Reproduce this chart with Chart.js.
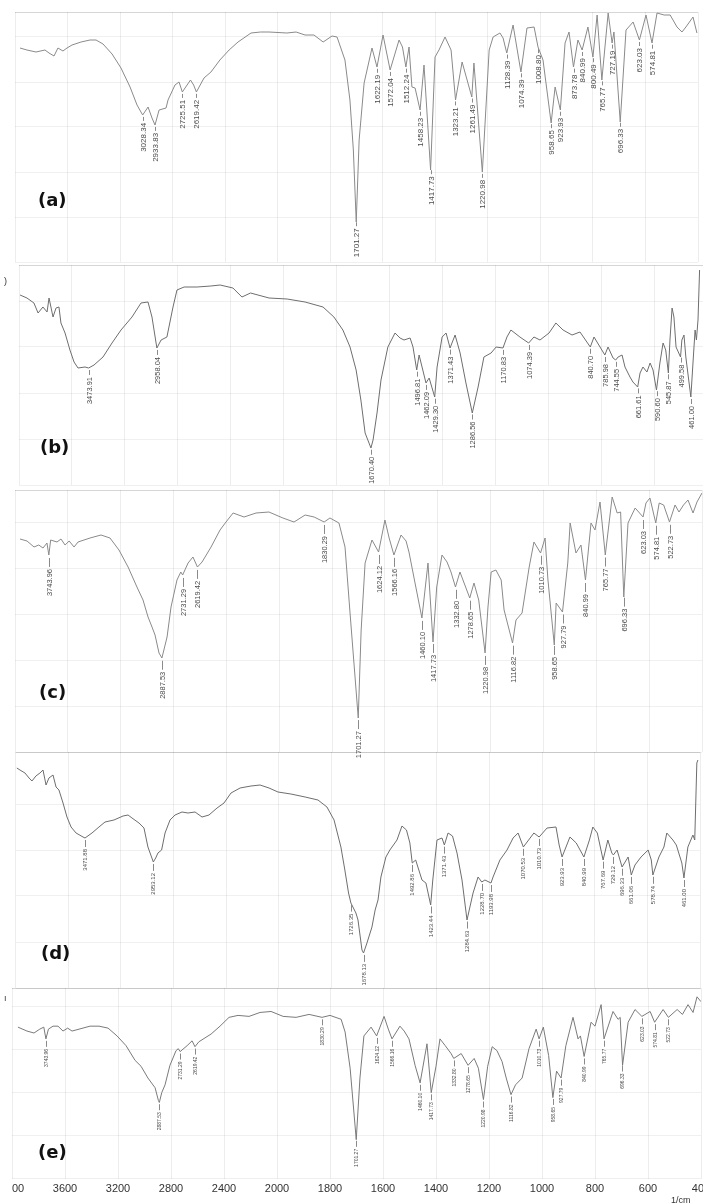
<!DOCTYPE html>
<html><head><meta charset="utf-8">
<script src="https://cdn.jsdelivr.net/npm/chart.js@4.4.0/dist/chart.umd.min.js"></script>
<style>
html,body{margin:0;padding:0;background:#fff;width:703px;height:1203px;overflow:hidden;position:relative}
.p{position:absolute;left:-20px}
.lab{position:absolute;font:bold 18px "DejaVu Sans",sans-serif;color:#111;line-height:22px}
.frag{position:absolute;font:9px "Liberation Sans",sans-serif;color:#333}
</style></head><body>
<div class="p" style="top:0px"><canvas id="ca" width="743" height="300"></canvas></div>
<div class="p" style="top:240px"><canvas id="cb" width="743" height="280"></canvas></div>
<div class="p" style="top:470px"><canvas id="cc" width="743" height="320"></canvas></div>
<div class="p" style="top:730px"><canvas id="cd" width="743" height="300"></canvas></div>
<div class="p" style="top:968px"><canvas id="ce" width="743" height="250"></canvas></div>
<div class="lab" style="left:38px;top:189px">(a)</div>
<div class="lab" style="left:40px;top:436px">(b)</div>
<div class="lab" style="left:39px;top:681px">(c)</div>
<div class="lab" style="left:41px;top:942px">(d)</div>
<div class="lab" style="left:38px;top:1141px">(e)</div>
<div class="frag" style="left:4px;top:276px">)</div>
<div class="frag" style="left:4px;top:993px">ı</div>
<div style="position:absolute;left:0;top:1184px;width:12px;height:19px;background:#fff"></div>
<div class="frag" style="left:671px;top:1195px;font-size:9px">1/cm</div>
<script>
// ---------- DATA ----------
const xTickValues = [4000,3600,3200,2800,2400,2000,1800,1600,1400,1200,1000,800,600,400];

const aWave = [3962,3909,3840,3772,3741,3703,3673,3635,3604,3566,3497,3429,3383,3330,3261,3193,3124,3071,3028,2987,2957,2934,2903,2850,2835,2782,2751,2726,2664,2640,2619,2561,2508,2440,2370,2302,2203,2130,2066,1965,1930,1896,1862,1827,1793,1774,1744,1725,1712,1701,1690,1671,1641,1622,1599,1572,1538,1525,1512,1500,1489,1477,1458,1443,1418,1401,1386,1363,1340,1323,1298,1261,1253,1221,1195,1180,1154,1142,1128,1104,1074,1051,1024,1009,990,959,944,924,906,891,874,857,841,819,800,784,766,742,727,720,696,674,647,623,598,575,556,529,506,480,461,446,419,404];
const aT = [107,106,105,106,104.5,103,107,105.5,107,108.5,110,111,111,109,104,97,87.5,78.5,73.5,77.5,72,68.5,76,77,81,88.5,90,85,91,88.5,85,92,95,101,106,110,114.5,115,115,114.5,115,113.5,113.5,110,113,112.5,101,81,56,20,61,89.5,107,97.5,113.5,96,111,107.5,97.5,107.5,87.5,87,76,98.5,46,102.5,106,112.5,106,81,100,82.5,99.5,45,106,112.5,114.5,112,104.5,118.5,95,117,117.5,107.5,101,69.5,87.5,76,109.5,115,97.5,111,106,117.5,102.5,123.5,91,124.5,109.5,115,70,116,120,111,123.5,109.5,124.5,123.5,123.5,117.5,115,117.5,122.5,114.5];
const aPeaks = [3028.34,2933.83,2725.51,2619.42,1701.27,1622.19,1572.04,1512.24,1458.23,1417.73,1323.21,1261.49,1220.98,1128.39,1074.39,1008.80,958.65,923.93,873.78,840.99,800.49,765.77,727.19,696.33,623.03,574.81];

const bWave = [3992,3940,3887,3856,3819,3788,3773,3743,3720,3698,3683,3652,3615,3584,3554,3501,3474,3433,3365,3297,3229,3146,3078,3025,2995,2958,2926,2882,2836,2806,2752,2654,2550,2480,2383,2315,2250,2110,1987,1919,1851,1810,1776,1749,1726,1708,1692,1670,1662,1647,1632,1606,1579,1560,1545,1522,1511,1497,1488,1462,1450,1429,1420,1401,1386,1371,1352,1333,1311,1287,1265,1243,1216,1197,1171,1156,1141,1107,1074,1054,1031,997,971,944,910,880,841,827,786,774,755,745,736,721,710,691,680,662,653,642,627,615,604,591,578,566,556,546,540,532,525,517,500,495,487,480,461,453,445,440,434,428];
const bT = [95,93.5,91,86,89,86.5,93.5,84,88.5,89,81,76,67.5,61.5,58.5,59,58.5,60,64,71,77.5,84,91,91.5,84,68.5,72.5,74,89,97.5,99,99,99.5,100,98.5,94,96,93.5,93,91.5,89,84,77.5,69,57.5,42.5,26,18.5,22.5,36,52.5,69,76,73.5,72.5,73.5,69,57.5,65,51,53.5,44,59,74,76,68.5,75,66,51,36,49,64,66,69,68.5,74,77.5,74,71,74,72.5,76,81,77.5,75,76.5,69,74,65,69,63.5,62.5,64,65,59,54,51.5,49,56,59,56.5,61,57.5,47.5,61,71,67.5,56,72.5,88.5,84,69,64,72.5,75,64,44,61,77.5,72.5,82.5,107.5];
const bPeaks = [3473.91,2958.04,1670.40,1496.81,1462.09,1429.30,1371.43,1286.56,1170.83,1074.39,840.70,785.98,744.55,661.61,590.60,545.87,499.58,461.00];

const cWave = [3962,3909,3856,3820,3788,3758,3744,3730,3682,3652,3621,3590,3553,3523,3432,3349,3281,3213,3144,3077,3031,2993,2963,2940,2910,2888,2849,2819,2774,2745,2731,2690,2653,2619,2584,2516,2448,2403,2349,2266,2176,2078,1986,1944,1902,1868,1830,1808,1774,1751,1732,1701,1690,1675,1649,1624,1600,1584,1566,1539,1520,1509,1486,1460,1437,1418,1404,1384,1365,1350,1333,1316,1279,1263,1245,1221,1210,1198,1180,1160,1149,1117,1104,1081,1054,1036,1011,994,983,959,952,928,908,899,877,858,841,820,805,786,766,740,721,708,696,680,653,623,612,597,575,562,545,523,502,487,470,453,434,419,400];
const cT = [106.5,105.5,102.5,103.5,102,104.5,98.5,106,105,106.5,103.5,105.5,102.5,105,107,108.5,107,101,92.5,82.5,76,67.5,62.5,58.5,49.5,47,57.5,72.5,86,90,88.5,94.5,97.5,92.5,95,102.5,111,115,119.5,117.5,119.5,120,117,115,118.5,117.5,115,117,114.5,102.5,69.5,17,61,94.5,106,100,116,107,98.5,108.5,105.5,100,84.5,67,94.5,55,82.5,98.5,95,90,82.5,90,77,84.5,76,49.5,72.5,90,91,86,71,54.5,66,69.5,92.5,105,99.5,107,86,53.5,74.5,70,94.5,114.5,99.5,103.5,86,114.5,111,125,98.5,127.5,119.5,120,77.5,114.5,122,117.5,124.5,127,114.5,124.5,123.5,115,123.5,120,123.5,126,119.5,125,129.5];
const cPeaks = [3743.96,2887.53,2731.29,2619.42,1830.29,1701.27,1624.12,1566.16,1460.10,1417.73,1332.80,1278.65,1220.98,1116.82,1010.73,958.65,927.79,840.99,765.77,696.33,623.03,574.81,522.73];

const dWave = [3990,3966,3928,3897,3875,3845,3814,3791,3768,3746,3715,3692,3670,3639,3609,3578,3540,3487,3472,3419,3366,3320,3252,3183,3145,3115,3062,3024,2994,2953,2935,2918,2890,2864,2826,2788,2735,2690,2636,2583,2530,2469,2416,2363,2294,2211,2142,2074,2006,1954,1900,1851,1817,1790,1764,1749,1735,1726,1707,1699,1684,1678,1665,1646,1634,1623,1612,1593,1578,1551,1532,1515,1502,1493,1480,1456,1441,1423,1415,1399,1380,1371,1357,1340,1323,1304,1285,1262,1243,1229,1217,1194,1186,1160,1133,1110,1091,1071,1031,1011,981,947,935,924,894,870,841,820,807,790,768,750,735,729,715,696,673,661,647,624,597,585,579,556,537,526,503,490,469,461,446,427,420,412,408];
const dT = [110,109,107.5,105,103.5,106,107.5,109,101.5,105,106.5,100.5,99,92.5,85.5,80.5,77.5,75.5,75,77.5,80.5,83,84,86,86.5,85,82.5,80,70.5,63,65,67.5,69,77.5,84,86.5,88,87.5,88,85.5,86.5,90,92.5,97.5,100,101,101.5,100,98,97,95.5,94,90.5,84,70.5,59,47.5,42.5,37.5,34,19,17.5,22.5,30.5,39,44,55.5,65.5,69,74,81,79,72.5,62.5,64,54,52.5,41.5,54,74,75,71.5,77.5,76,67.5,54,34,47.5,55.5,53,54,52.5,55.5,64,69,75,77.5,70.5,77.5,75.5,80,80.5,71.5,65.5,75.5,72.5,65.5,74,80.5,77.5,64,74,67.5,66.5,69,60.5,65.5,56.5,61.5,65.5,69,64,56.5,65.5,70.5,77.5,74,71.5,62.5,55,70.5,76.5,74,112.5,114];
const dPeaks = [3471.88,2953.12,1726.35,1678.13,1492.86,1423.44,1371.43,1284.63,1228.70,1193.98,1070.53,1010.73,923.93,840.99,767.69,729.12,696.33,661.06,578.74,461.00];

const eWave = [3955,3887,3834,3790,3760,3744,3725,3690,3653,3615,3580,3547,3411,3343,3275,3207,3139,3071,3026,2974,2920,2895,2888,2870,2845,2808,2762,2745,2731,2679,2641,2619,2590,2497,2430,2362,2294,2211,2128,2045,1977,1928,1879,1830,1800,1758,1743,1724,1701,1687,1672,1645,1624,1596,1580,1566,1536,1520,1502,1479,1460,1434,1418,1400,1385,1365,1343,1333,1305,1279,1256,1240,1221,1205,1188,1170,1151,1135,1117,1100,1075,1049,1022,1011,995,975,959,945,928,910,883,864,855,841,815,800,777,766,732,713,705,696,675,649,623,592,575,543,523,490,470,449,430,415,400];
const eT = [77.5,75.5,74.5,76.5,77.5,71.5,76.5,78,78,75.5,77,75.5,78,78,77,73,68,60.5,57.5,51.5,46.5,40,39,44,48,58,65.5,66.5,65,68,70.5,67.5,70,74,78,82.5,83.5,83,85,85.5,83,82.5,84,82.5,83.5,81.5,75,56.5,20,51.5,73,77.5,73,83,76.5,71.5,78,75.5,71.5,58,49,69,44,57.5,71.5,68,64,61.5,64,58,61.5,56.5,40.5,57.5,67.5,65.5,60,51.5,43,48,51.5,66.5,76.5,71.5,77.5,63,41.5,55,51.5,68,82.5,71.5,73,62.5,80,78,89,71.5,85.5,81.5,82.5,58,80,86.5,83,85.5,80,86.5,82.5,86.5,84,89,85,93,90.5];
const ePeaks = cPeaks.slice();

// ---------- helpers (piecewise wavenumber axis: 400/div above 2000, 200/div below) ----------
function toU(w){ return w >= 2000 ? (4000 - w) / 2 : 1000 + (2000 - w); }
function uToW(u){ return u <= 1000 ? 4000 - 2 * u : 2000 - (u - 1000); }
function interp(data, u){
  for (let i = 0; i < data.length - 1; i++){
    const a = data[i], b = data[i+1];
    if (u >= a.x && u <= b.x){ const f = (u - a.x) / ((b.x - a.x) || 1); return a.y + f * (b.y - a.y); }
  }
  return data[data.length-1].y;
}

const peakPlugin = {
  id: 'peaks',
  afterDatasetsDraw(chart, args, o){
    const {ctx} = chart, x = chart.scales.x, y = chart.scales.y;
    const data = chart.data.datasets[0].data;
    ctx.save();
    ctx.font = o.font; ctx.fillStyle = o.color; ctx.strokeStyle = o.lineColor; ctx.lineWidth = 1;
    o.peaks.forEach(w => {
      const u = toU(w);
      const px = Math.round(x.getPixelForValue(u)) + 0.5;
      const py = y.getPixelForValue(interp(data, u));
      ctx.beginPath(); ctx.moveTo(px, py + o.gap[0]); ctx.lineTo(px, py + o.gap[1]); ctx.stroke();
      ctx.save(); ctx.translate(px, py + o.gap[2]); ctx.rotate(-Math.PI / 2);
      ctx.textAlign = 'right'; ctx.textBaseline = 'middle';
      ctx.fillText(w.toFixed(2), 0, 0);
      ctx.restore();
    });
    ctx.restore();
  }
};

function makePanel(id, wave, t, peaks, s){
  const data = wave.map((w, i) => ({x: toU(w), y: t[i]}));
  new Chart(document.getElementById(id), {
    type: 'line',
    data: {datasets: [{data, borderColor: s.lineColor, borderWidth: 1, pointRadius: 0, tension: 0, fill: false}]},
    options: {
      responsive: false, animation: false, events: [],
      layout: {padding: s.pad},
      plugins: {legend: {display: false}, tooltip: {enabled: false},
        peaks: {peaks, font: s.labelFont, color: '#4a4a4a', lineColor: '#8a8a8a', gap: s.gap}},
      scales: {
        x: {type: 'linear', min: 0, max: 2600,
            grid: {color: 'rgba(0,0,0,0.07)', drawTicks: false},
            border: {display: false},
            ticks: {display: !!s.showTicks, stepSize: 200, autoSkip: false, maxRotation: 0, padding: 4,
                    color: '#333', font: {family: '"Liberation Sans", Arial, sans-serif', size: 11},
                    callback: v => String(uToW(v))}},
        y: {min: 0, max: s.yMax,
            grid: {color: c => (c.tick && c.tick.value === s.yMax) ? 'rgba(0,0,0,0.16)' : 'rgba(0,0,0,0.06)', drawTicks: false},
            border: {display: false},
            ticks: {display: false, stepSize: s.yStep}}
      }
    },
    plugins: [peakPlugin]
  });
}

const lf = px => px + 'px "Liberation Sans", Arial, sans-serif';
makePanel('ca', aWave, aT, aPeaks, {yMax:125, yStep:22.5, pad:{left:35,right:25,top:12,bottom:38}, lineColor:'#8a8a8a', labelFont:lf(8), gap:[2,6,8]});
makePanel('cb', bWave, bT, bPeaks, {yMax:110, yStep:23, pad:{left:39,right:16,top:25,bottom:35}, lineColor:'#6e6e6e', labelFont:lf(7.5), gap:[2,7,9]});
makePanel('cc', cWave, cT, cPeaks, {yMax:131, yStep:23, pad:{left:35,right:21,top:20,bottom:38}, lineColor:'#8a8a8a', labelFont:lf(7.5), gap:[3,12,14]});
makePanel('cd', dWave, dT, dPeaks, {yMax:118, yStep:23, pad:{left:35.5,right:23,top:22,bottom:42}, lineColor:'#6e6e6e', labelFont:lf(6), gap:[2,9,11]});
makePanel('ce', eWave, eT, ePeaks, {yMax:97.5, yStep:22, pad:{left:32,right:22,top:20,bottom:18}, lineColor:'#7a7a7a', labelFont:lf(5), gap:[2,8,10], showTicks:true});
</script>
</body></html>
